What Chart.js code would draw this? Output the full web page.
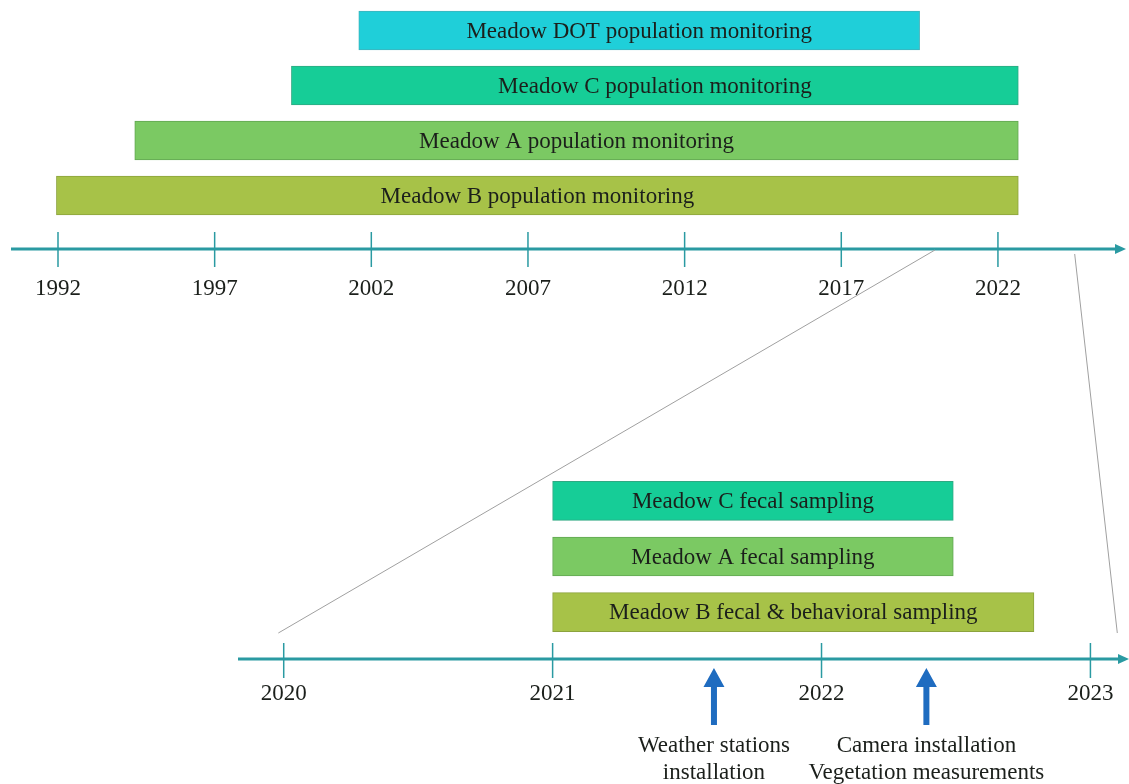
<!DOCTYPE html>
<html>
<head>
<meta charset="utf-8">
<script src="https://cdn.jsdelivr.net/npm/chart.js@4/dist/chart.umd.min.js"></script>
<style>
  html, body { margin: 0; background: #fff; }
  #wrap { position: relative; width: 1129px; height: 784px; }
  #wrap canvas { position: absolute; left: 0; top: 0; }
</style>
</head>
<body>
<div id="wrap">
  <canvas id="long-chart" width="1129" height="784"></canvas>
  <canvas id="recent-chart" width="1129" height="784"></canvas>
</div>
<script>
// long-term monitoring (top timeline)
const longTasks = [
    'Meadow DOT population monitoring',
    'Meadow C population monitoring',
    'Meadow A population monitoring',
    'Meadow B population monitoring'
];
const longStart = [2001.6, 1999.45, 1994.45, 1991.95];
const longEnd = [2019.5, 2022.65, 2022.65, 2022.65];
const longTicks = [1992, 1997, 2002, 2007, 2012, 2017, 2022];

// recent field work (bottom timeline, zoom on 2020-2023)
const recentTasks = [
    'Meadow C fecal sampling',
    'Meadow A fecal sampling',
    'Meadow B fecal & behavioral sampling'
];
const recentStart = [2021, 2021, 2021];
const recentEnd = [2022.49, 2022.49, 2022.79];
const recentTicks = [2020, 2021, 2022, 2023];

// one-off events marked with blue arrows
const eventDates = [2021.6, 2022.39];
const eventLabels = [
    ['Weather stations', 'installation'],
    ['Camera installation', 'Vegetation measurements']
];

// zoom connector: where the grey lines leave the top axis and land on the bottom one
const zoomFrom = [2019.99, 2024.45];
const zoomTo = [2019.98, 2023.1];

const longColors = ['#1fcfd9', '#16cd97', '#7bc963', '#a7c248'];
const longBorders = ['#3fb3bb', '#2fa982', '#62a652', '#8ca33d'];
const recentColors = ['#16cd97', '#7bc963', '#a7c248'];
const recentBorders = ['#2fa982', '#62a652', '#8ca33d'];

const AXIS_COLOR = '#2a9aa2';
const TEXT_COLOR = '#1b1f1b';
const FONT = '23px "Liberation Serif", "Times New Roman", serif';

function axisY(chart) {
    return chart.chartArea.bottom + chart.options.plugins.timeline.gap;
}

// draws the arrowed time axis, its ticks and year labels, and the text inside bars
const timelinePlugin = {
    id: 'timeline',
    afterDatasetsDraw(chart, args, opts) {
        const ctx = chart.ctx;
        const xs = chart.scales.x;
        const area = chart.chartArea;
        const y = axisY(chart);

        ctx.save();
        // bar captions
        ctx.font = FONT;
        ctx.fillStyle = TEXT_COLOR;
        ctx.textAlign = 'center';
        ctx.textBaseline = 'middle';
        chart.getDatasetMeta(0).data.forEach((bar, i) => {
            const p = bar.getProps(['x', 'y', 'base'], true);
            ctx.fillText(chart.data.labels[i], (p.x + p.base) / 2, p.y + 1);
        });

        // axis line with arrow head
        ctx.strokeStyle = AXIS_COLOR;
        ctx.fillStyle = AXIS_COLOR;
        ctx.lineWidth = 3;
        ctx.beginPath();
        ctx.moveTo(area.left, y);
        ctx.lineTo(area.right, y);
        ctx.stroke();
        ctx.beginPath();
        ctx.moveTo(area.right - 2, y - 5);
        ctx.lineTo(area.right + 9, y);
        ctx.lineTo(area.right - 2, y + 5);
        ctx.closePath();
        ctx.fill();

        // ticks and labels
        ctx.lineWidth = 1.5;
        opts.ticks.forEach(v => {
            const px = xs.getPixelForValue(v);
            ctx.beginPath();
            ctx.moveTo(px, y - opts.tickUp);
            ctx.lineTo(px, y + opts.tickDown);
            ctx.stroke();
        });
        ctx.fillStyle = TEXT_COLOR;
        opts.ticks.forEach(v => {
            ctx.fillText(String(v), xs.getPixelForValue(v), y + opts.labelGap);
        });
        ctx.restore();
    }
};

function makeChart(id, labels, starts, ends, colors, borders, xMin, xMax, padding, timeline, extra) {
    return new Chart(document.getElementById(id), {
        type: 'bar',
        data: {
            labels: labels,
            datasets: [{
                data: starts.map((s, i) => [s, ends[i]]),
                backgroundColor: colors,
                borderColor: borders,
                borderWidth: 1,
                borderSkipped: false,
                barThickness: 39
            }]
        },
        options: {
            indexAxis: 'y',
            responsive: false,
            animation: false,
            layout: { padding: padding },
            scales: {
                x: { type: 'linear', min: xMin, max: xMax, display: false },
                y: { display: false }
            },
            plugins: {
                legend: { display: false },
                tooltip: { enabled: false },
                timeline: timeline
            }
        },
        plugins: [timelinePlugin].concat(extra || [])
    });
}

const longChart = makeChart('long-chart', longTasks, longStart, longEnd, longColors, longBorders,
    1990.5, 2025.8,
    { left: 11, right: 12, top: 3, bottom: 561 },
    { gap: 26, tickUp: 17, tickDown: 18, labelGap: 40, ticks: longTicks });

// grey zoom lines and event arrows, drawn on the lower chart
const eventsPlugin = {
    id: 'events',
    afterDraw(chart) {
        const ctx = chart.ctx;
        const xs = chart.scales.x;
        const topX = longChart.scales.x;
        const yTop = axisY(longChart);
        const yBot = axisY(chart);

        ctx.save();
        ctx.strokeStyle = '#a0a0a0';
        ctx.lineWidth = 1;
        zoomFrom.forEach((v, i) => {
            ctx.beginPath();
            ctx.moveTo(topX.getPixelForValue(v), yTop + 1 + i * 4);
            ctx.lineTo(xs.getPixelForValue(zoomTo[i]), chart.chartArea.bottom - 7);
            ctx.stroke();
        });

        ctx.fillStyle = '#1f6cc0';
        ctx.font = FONT;
        ctx.textAlign = 'center';
        ctx.textBaseline = 'middle';
        eventDates.forEach((d, i) => {
            const px = xs.getPixelForValue(d);
            ctx.fillStyle = '#1f6cc0';
            ctx.beginPath();
            ctx.moveTo(px, yBot + 9);
            ctx.lineTo(px + 10.5, yBot + 28);
            ctx.lineTo(px + 3, yBot + 28);
            ctx.lineTo(px + 3, yBot + 66);
            ctx.lineTo(px - 3, yBot + 66);
            ctx.lineTo(px - 3, yBot + 28);
            ctx.lineTo(px - 10.5, yBot + 28);
            ctx.closePath();
            ctx.fill();
            ctx.fillStyle = TEXT_COLOR;
            eventLabels[i].forEach((line, j) => {
                ctx.fillText(line, px, yBot + 87 + j * 27);
            });
        });
        ctx.restore();
    }
};

const recentChart = makeChart('recent-chart', recentTasks, recentStart, recentEnd, recentColors, recentBorders,
    2019.83, 2023.11,
    { left: 238, right: 9, top: 473, bottom: 144 },
    { gap: 19, tickUp: 16, tickDown: 19, labelGap: 35, ticks: recentTicks },
    [eventsPlugin]);
</script>
</body>
</html>
